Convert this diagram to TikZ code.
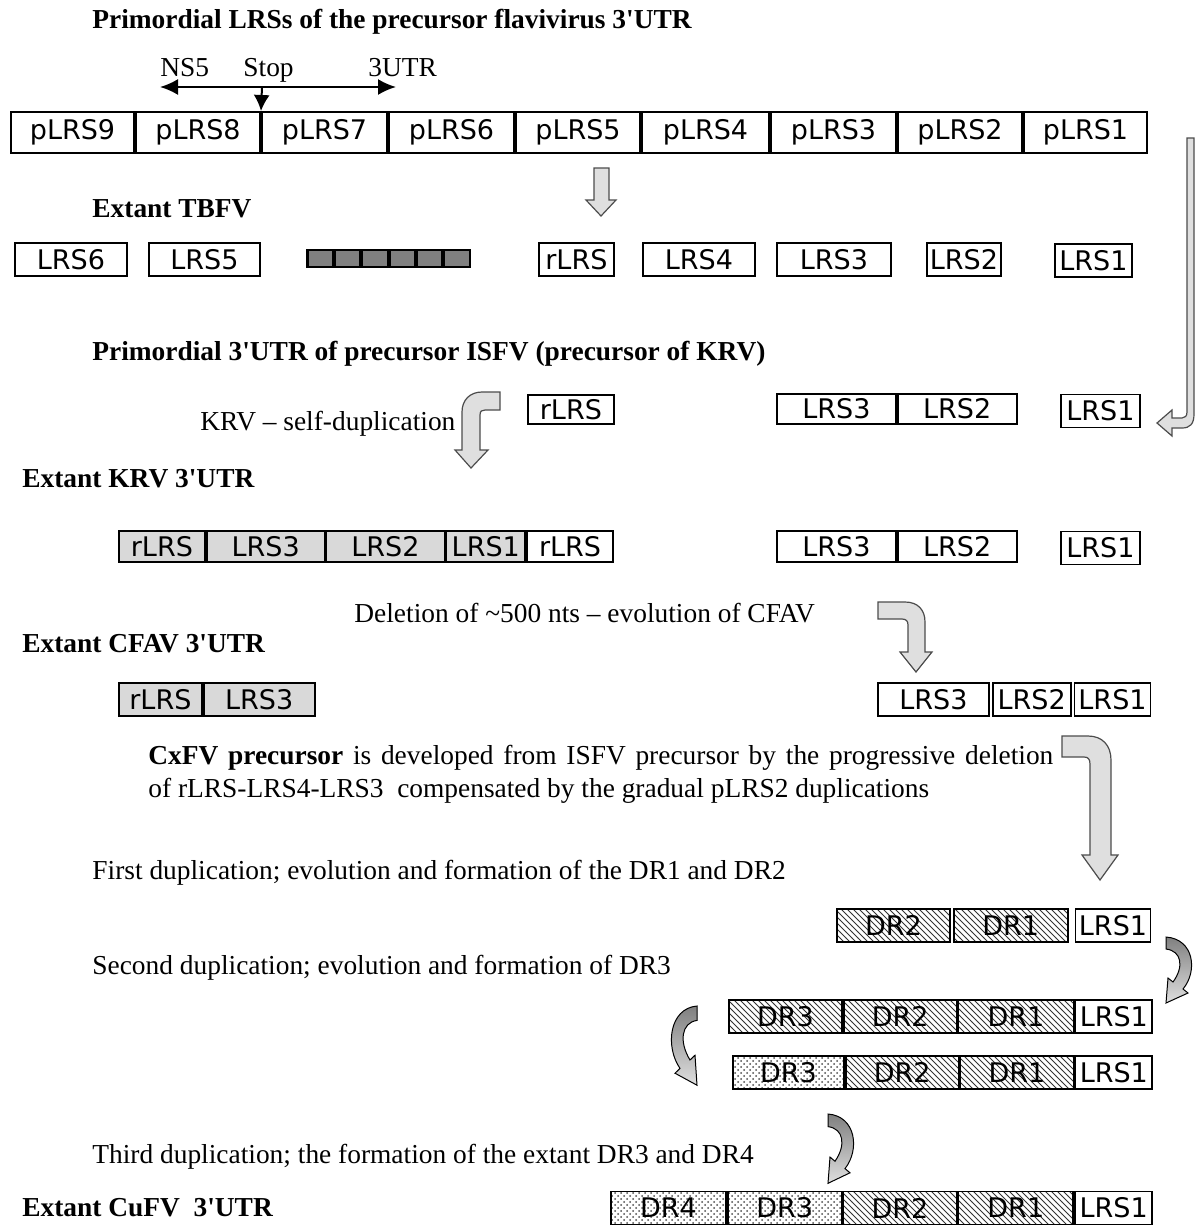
\documentclass[tikz,border=0pt]{standalone}
\usepackage{fontspec}
\setmainfont{Liberation Serif}
\setsansfont{DejaVu Sans}
\usepackage{tikz}
\usetikzlibrary{positioning,patterns,arrows.meta}

\tikzset{
  seg/.style={draw, line width=0.9pt, inner sep=0pt, minimum height=16.5pt,
    font=\sffamily\fontsize{13.5}{13.5}\selectfont},
  pseg/.style={seg, line width=1pt, minimum height=20.5pt},
  wd/.style={minimum width=#1*0.5pt},
  gseg/.style={seg, fill=gray!30},
  hseg/.style={seg, pattern=north west lines, pattern color=black!80},
  dseg/.style={seg, pattern=crosshatch dots, pattern color=black!70},
  cell/.style={draw, fill=gray, line width=1.3pt, inner sep=0pt, minimum width=13pt, minimum height=8.5pt},
  lbl/.style={anchor=base west, inner sep=0pt, font=\fontsize{13.7}{16.5}\selectfont},
  head/.style={lbl, font=\bfseries\fontsize{13.7}{16.5}\selectfont},
  blk/.style={draw=black!70, fill=gray!25, line width=0.6pt},
  curvarr/.style={draw=black, line width=0.5pt, top color=gray, bottom color=gray!25},
}

\begin{document}
\begin{tikzpicture}[x=0.5pt,y=-0.5pt]
\useasboundingbox (0,0) rectangle (1196,1226);

% precursor flavivirus
\node[head] (title1) at (92,28) {Primordial LRSs of the precursor flavivirus 3\textquotesingle UTR};
\node[lbl] (ns5) at (160,76) {NS5};
\node[lbl] (stop) at (243,76) {Stop};
\node[lbl] (utr) at (368,76) {3UTR};

\node[pseg, wd=123, anchor=west] (p9) at (10,132.5) {pLRS9};
\node[pseg, wd=124, right=0pt of p9] (p8) {pLRS8};
\node[pseg, wd=125, right=0pt of p8] (p7) {pLRS7};
\node[pseg, wd=125, right=0pt of p7] (p6) {pLRS6};
\node[pseg, wd=124, right=0pt of p6] (p5) {pLRS5};
\node[pseg, wd=127, right=0pt of p5] (p4) {pLRS4};
\node[pseg, wd=125, right=0pt of p4] (p3) {pLRS3};
\node[pseg, wd=124, right=0pt of p3] (p2) {pLRS2};
\node[pseg, wd=123, right=0pt of p2] (p1) {pLRS1};

\coordinate (ns5end) at (160,87);
\coordinate (utrend) at (396,87);
\coordinate (stopc) at (262,87);
\draw[{Latex[length=9pt,width=8pt]}-{Latex[length=9pt,width=8pt]}, line width=1pt] (ns5end) -- (utrend);
\draw[-{Latex[length=8pt,width=8pt]}, line width=1pt] (stopc) -- (p8.north east);

\draw[blk] (594,168) -- (609,168) -- (609,200) -- (616,200) -- (601,216) -- (586,200) -- (594,200) -- cycle;
\draw[blk] (1187,138) -- (1194,138) -- (1194,414) .. controls (1194,424) and (1190,428) .. (1182,428) -- (1172,428) -- (1172,436) -- (1157,423) -- (1172,410) -- (1172,418) -- (1182,418) .. controls (1185,418) and (1187,416) .. (1187,412) -- cycle;

% TBFV
\node[head] (title2) at (92,217) {Extant TBFV};
\node[seg, wd=112, anchor=west] (t6) at (14,259.5) {LRS6};
\node[seg, wd=111, anchor=west] (t5) at (148,259.5) {LRS5};
\foreach \i in {0,...,5}
  \node[cell, anchor=west] (bar\i) at ({306+\i*27.3},258.5) {};
\node[seg, wd=75, anchor=west] (tr) at (538,259.5) {rLRS};
\node[seg, wd=112, anchor=west] (t4) at (642,259.5) {LRS4};
\node[seg, wd=114, anchor=west] (t3) at (776,259.5) {LRS3};
\node[seg, wd=74, anchor=west] (t2) at (926,259.5) {LRS2};
\node[seg, wd=77, anchor=west] (t1) at (1054,260.5) {LRS1};

% ISFV
\node[head] (title3) at (92,360) {Primordial 3\textquotesingle UTR of precursor ISFV (precursor of KRV)};
\node[seg, wd=86, minimum height=14.5pt, anchor=west] (ir) at (527,409.5) {rLRS};
\node[seg, wd=119, minimum height=15pt, anchor=west] (i3) at (776,409) {LRS3};
\node[seg, wd=119, minimum height=15pt, right=0pt of i3] (i2) {LRS2};
\node[seg, wd=79, anchor=west] (i1) at (1060,411) {LRS1};
\node[lbl] (selfdup) at (200,430) {KRV -- self-duplication};
\draw[blk] (500,392) -- (482,392) .. controls (470,392) and (462,400) .. (462,412) -- (462,450) -- (455,450) -- (471,468) -- (488,450) -- (480,450) -- (480,415) .. controls (480,411) and (482,410) .. (485,410) -- (500,410) -- cycle;

% KRV
\node[head] (title4) at (22,487) {Extant KRV 3\textquotesingle UTR};
\node[gseg, wd=86, minimum height=15.5pt, anchor=west] (kr) at (118,546.5) {rLRS};
\node[gseg, wd=118, minimum height=15.5pt, right=0pt of kr] (k3) {LRS3};
\node[gseg, wd=118, minimum height=15.5pt, right=0pt of k3] (k2) {LRS2};
\node[gseg, wd=79, minimum height=15.5pt, right=0pt of k2] (k1) {LRS1};
\node[seg, wd=86, minimum height=15.5pt, right=0pt of k1] (kr2) {rLRS};
\node[seg, wd=119, minimum height=15.5pt, anchor=west] (kk3) at (776,546.5) {LRS3};
\node[seg, wd=119, minimum height=15.5pt, right=0pt of kk3] (kk2) {LRS2};
\node[seg, wd=79, anchor=west] (kk1) at (1060,548) {LRS1};

% CFAV
\node[lbl] (deletion) at (354,622) {Deletion of \textasciitilde500 nts -- evolution of CFAV};
\draw[blk] (878,602) -- (905,602) .. controls (918,602) and (925,610) .. (925,622) -- (925,652) -- (932,652) -- (916,672) -- (900,652) -- (908,652) -- (908,625) .. controls (908,621) and (906,619) .. (902,619) -- (878,619) -- cycle;
\node[head] (title5) at (22,652) {Extant CFAV 3\textquotesingle UTR};
\node[gseg, wd=83, anchor=west] (cr) at (118,699.5) {rLRS};
\node[gseg, wd=111, right=0pt of cr] (c3) {LRS3};
\node[seg, wd=111, anchor=west] (cc3) at (877,699.5) {LRS3};
\node[seg, wd=78, right=1pt of cc3] (cc2) {LRS2};
\node[seg, wd=76, right=1pt of cc2] (cc1) {LRS1};

% CxFV
\node[lbl] (cx1) at (148,764) {\makebox[452.5pt][s]{\textbf{CxFV precursor} is developed from ISFV precursor by the progressive deletion}};
\node[lbl] (cx2) at (148,797) {of rLRS-LRS4-LRS3\ \ compensated by the gradual pLRS2 duplications};
\draw[blk] (1062,736) -- (1088,736) .. controls (1102,736) and (1111,745) .. (1111,760) -- (1111,855) -- (1118,855) -- (1100,880) -- (1082,855) -- (1090,855) -- (1090,764) .. controls (1090,759) and (1088,757) .. (1084,757) -- (1062,757) -- cycle;

\node[lbl] (dup1) at (92,879) {First duplication; evolution and formation of the DR1 and DR2};
\node[hseg, wd=113, anchor=west] (a2) at (836,925.5) {DR2};
\node[hseg, wd=114, right=1pt of a2] (a1) {DR1};
\node[seg, wd=75, right=3pt of a1] (al) {LRS1};

\begin{scope}[shift={(1166,937)}]
\draw[curvarr] (0,0) .. controls (28,2) and (32,34) .. (17,52) -- (22,56) -- (0,66) -- (2,41) -- (7,45) .. controls (18,30) and (16,14) .. (0,12) -- cycle;
\end{scope}

\node[lbl] (dup2) at (92,974) {Second duplication; evolution and formation of DR3};
\node[hseg, wd=113, anchor=west] (b3) at (728,1016.5) {DR3};
\node[hseg, wd=113, right=0pt of b3] (b2) {DR2};
\node[hseg, wd=115, right=0pt of b2] (b1) {DR1};
\node[seg, wd=77, right=0pt of b1] (bl) {LRS1};

\begin{scope}[shift={(697,1006)}, xscale=-1, yscale=1.2]
\draw[curvarr] (0,0) .. controls (28,2) and (32,34) .. (17,52) -- (22,56) -- (0,66) -- (2,41) -- (7,45) .. controls (18,30) and (16,14) .. (0,12) -- cycle;
\end{scope}

\node[dseg, wd=111, anchor=west] (c3d) at (732,1072.5) {DR3};
\node[hseg, wd=113, right=0pt of c3d] (c2d) {DR2};
\node[hseg, wd=113, right=0pt of c2d] (c1d) {DR1};
\node[seg, wd=77, right=0pt of c1d] (cld) {LRS1};

\begin{scope}[shift={(828,1114)}, yscale=1.05]
\draw[curvarr] (0,0) .. controls (28,2) and (32,34) .. (17,52) -- (22,56) -- (0,66) -- (2,41) -- (7,45) .. controls (18,30) and (16,14) .. (0,12) -- cycle;
\end{scope}

% CuFV
\node[lbl] (dup3) at (92,1163) {Third duplication; the formation of the extant DR3 and DR4};
\node[head] (title6) at (22,1216) {Extant CuFV\ \ 3\textquotesingle UTR};
\node[dseg, wd=115, anchor=west] (u4) at (610,1208) {DR4};
\node[dseg, wd=114, right=0pt of u4] (u3) {DR3};
\node[hseg, wd=113, right=0pt of u3] (u2) {DR2};
\node[hseg, wd=115, right=0pt of u2] (u1) {DR1};
\node[seg, wd=77, right=0pt of u1] (ul) {LRS1};
\end{tikzpicture}
\end{document}
